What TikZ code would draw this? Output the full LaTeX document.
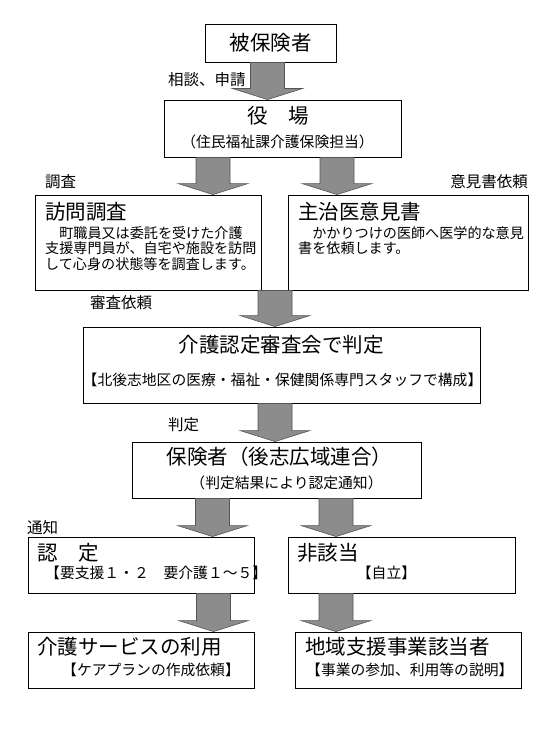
\documentclass[tikz,border=0pt]{standalone}
\usepackage{fontspec}
\setmainfont{Noto Sans CJK JP}
\usetikzlibrary{calc}
\definecolor{arrfill}{RGB}{140,140,140}
\definecolor{arrline}{RGB}{85,85,85}
\tikzset{
 box/.style={draw=black, line width=0.9pt, inner sep=0pt, fill=white},
 big/.style={font=\fontsize{20.5}{24}\selectfont, inner sep=0pt},
 small/.style={font=\fontsize{14.8}{15.5}\selectfont, inner sep=0pt, align=left},
 body/.style={font=\fontsize{14.1}{15.5}\selectfont, inner sep=0pt, align=left},
 lbl/.style={font=\fontsize{15.5}{17}\selectfont, inner sep=0pt},
 fatarr/.style={fill=arrfill, draw=arrline, line width=0.6pt, line join=miter},
}
% #1 centre x (pt), #2 start node, #3 end node
\newcommand\fatarrow[3]{%
 \path[fatarr] let \p1=(#2.south), \p2=(#3.north) in
  ({#1pt-17pt},\y1) -- ({#1pt+17pt},\y1) -- ({#1pt+17pt},\y2+11pt)
  -- ({#1pt+35pt},\y2+11pt) -- ({#1pt},\y2) -- ({#1pt-35pt},\y2+11pt)
  -- ({#1pt-17pt},\y2+11pt) -- cycle;}
\begin{document}
\begin{tikzpicture}[x=1pt,y=-1pt]
\useasboundingbox[fill=white] (0,0) rectangle (552,741);
% boxes
\node[box, minimum width=131pt, minimum height=38pt] (b1) at (270.5,43) {};
\node[box, minimum width=237pt, minimum height=57pt] (b2) at (282.5,128.5) {};
\node[box, minimum width=226pt, minimum height=95pt] (b3) at (148,242.5) {};
\node[box, minimum width=240pt, minimum height=95pt] (b4) at (408,242.5) {};
\node[box, minimum width=397pt, minimum height=76pt] (b5) at (281.5,365) {};
\node[box, minimum width=289pt, minimum height=56pt] (b6) at (276.5,470) {};
\node[box, minimum width=226pt, minimum height=56pt] (b7) at (141,565) {};
\node[box, minimum width=227pt, minimum height=56pt] (b8) at (401.5,565) {};
\node[box, minimum width=226pt, minimum height=56pt] (b9) at (141,660) {};
\node[box, minimum width=226pt, minimum height=56pt] (b10) at (408,660) {};
% arrows
\fatarrow{267.5}{b1}{b2}
\fatarrow{213}{b2}{b3}
\fatarrow{337}{b2}{b4}
\fatarrow{275}{b3}{b5}
\fatarrow{275}{b5}{b6}
\fatarrow{212.5}{b6}{b7}
\fatarrow{336}{b6}{b8}
\fatarrow{213.5}{b7}{b9}
\fatarrow{336}{b8}{b10}
% texts
\node[big] (t1) at (270.5,43) {被保険者};
\node[big, anchor=west] (t2) at (247,115.5) {役　場};
\node[small] (s2) at (277.5,142) {（住民福祉課介護保険担当）};
\node[big, anchor=west] (t3) at (45,212) {訪問調査};
\node[body, anchor=west] (s3) at (45,248.5) {　町職員又は委託を受けた介護\\支援専門員が、自宅や施設を訪問\\して心身の状態等を調査します。};
\node[big, anchor=west] (t4) at (298,212) {主治医意見書};
\node[body, anchor=west] (s4) at (298,240.75) {　かかりつけの医師へ医学的な意見\\書を依頼します。};
\node[big] (t5) at (281,345) {介護認定審査会で判定};
\node[small] (s5) at (282.5,380) {【北後志地区の医療・福祉・保健関係専門スタッフで構成】};
\node[big] (t6) at (279.5,457) {保険者（後志広域連合）};
\node[small] (s6) at (286.5,483) {（判定結果により認定通知）};
\node[big, anchor=west] (t7) at (37,553) {認　定};
\node[small, anchor=west] (s7) at (45,573) {【要支援１・２　要介護１～５】};
\node[big, anchor=west] (t8) at (297,553) {非該当};
\node[small] (s8) at (386.5,573) {【自立】};
\node[big, anchor=west] (t9) at (37,647) {介護サービスの利用};
\node[small, anchor=west] (s9) at (62,670) {【ケアプランの作成依頼】};
\node[big, anchor=west] (t10) at (305,647) {地域支援事業該当者};
\node[small, anchor=west] (s10) at (306,670) {【事業の参加、利用等の説明】};
% labels
\node[lbl, anchor=west] (l1) at (168,80) {相談、申請};
\node[lbl, anchor=west] (l2) at (45,182) {調査};
\node[lbl, anchor=east] (l3) at (528,182) {意見書依頼};
\node[lbl, anchor=west] (l4) at (90,303) {審査依頼};
\node[lbl, anchor=west] (l5) at (168,425) {判定};
\node[lbl, anchor=west] (l6) at (27,528) {通知};
\end{tikzpicture}
\end{document}
